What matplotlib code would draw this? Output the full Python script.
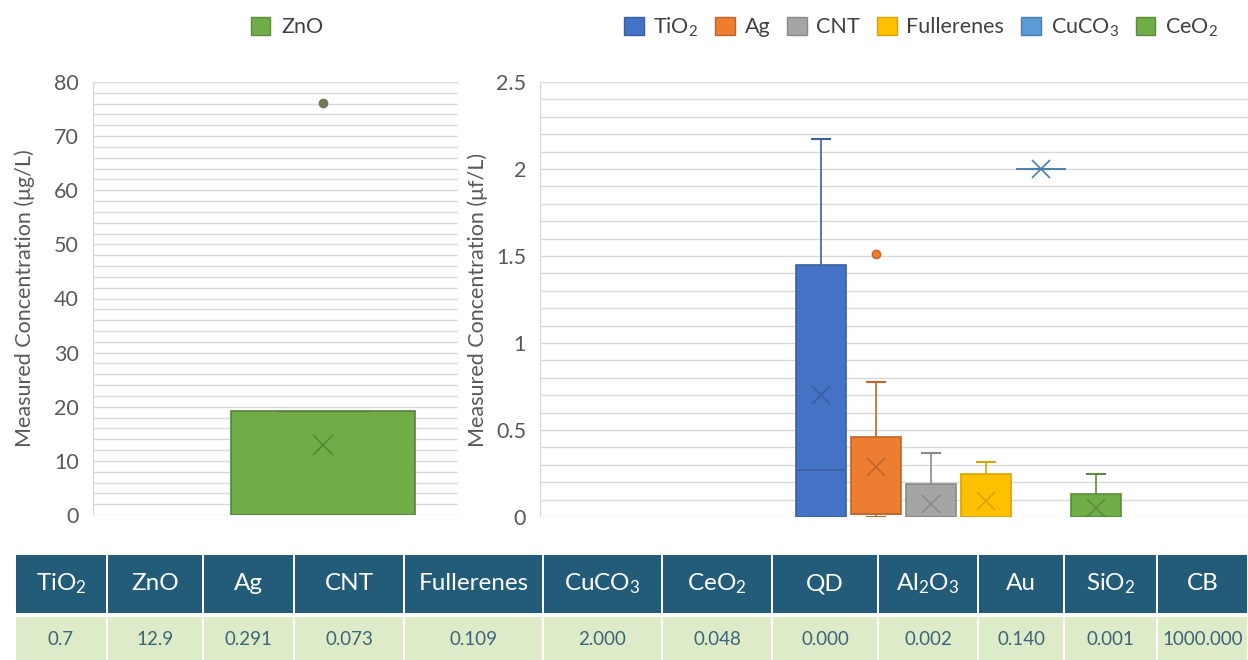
import numpy as np
import matplotlib
matplotlib.use("Agg")
import matplotlib.pyplot as plt
from matplotlib.patches import Patch, Rectangle

plt.rcParams["font.family"] = ["Lato", "DejaVu Sans"]
plt.rcParams["mathtext.default"] = "regular"

# left panel: ZnO
zno_stats = dict(label="ZnO", q1=0.0, med=0.0, q3=19.3, mean=13.0,
                 whislo=0.0, whishi=19.3, fliers=[76.2])

# right panel
right_names = ["TiO$_2$", "Ag", "CNT", "Fullerenes", "CuCO$_3$", "CeO$_2$"]
right_q1 = [0.0, 0.02, 0.0, 0.0, 2.0, 0.0]
right_med = [0.27, 0.02, 0.0, 0.0, 2.0, 0.0]
right_q3 = [1.45, 0.46, 0.19, 0.245, 2.0, 0.13]
right_mean = [0.70, 0.29, 0.075, 0.09, 2.0, 0.05]
right_lo = [0.0, 0.0, 0.0, 0.0, 2.0, 0.0]
right_hi = [2.17, 0.775, 0.365, 0.315, 2.0, 0.245]
right_fliers = [[], [1.51], [], [], [], []]
right_colors = ["#4472C4", "#ED7D31", "#A5A5A5", "#FFC000", "#5B9BD5", "#70AD47"]
right_edges = ["#3A5F9F", "#C0652A", "#8A8A8A", "#D9A400", "#4A7FB0", "#5A8C3A"]

# table
table_labels = ["TiO$_2$", "ZnO", "Ag", "CNT", "Fullerenes", "CuCO$_3$", "CeO$_2$",
                "QD", "Al$_2$O$_3$", "Au", "SiO$_2$", "CB"]
table_values = ["0.7", "12.9", "0.291", "0.073", "0.109", "2.000", "0.048",
                "0.000", "0.002", "0.140", "0.001", "1000.000"]
col_edges = [15, 107, 203, 294, 404, 543, 662, 772, 878, 978, 1064, 1157, 1248]

text_gray = "#595959"
grid_gray = "#D9D9D9"
fs = 15.5

fig = plt.figure(figsize=(12.48, 6.6), dpi=100)


def style_axis(ax):
    for s in ax.spines.values():
        s.set_visible(False)
    ax.tick_params(axis="y", length=0, labelsize=fs, labelcolor=text_gray, pad=10)
    ax.tick_params(axis="x", length=0, labelbottom=False)
    ax.yaxis.grid(True, which="both", color=grid_gray, linewidth=1)
    ax.set_axisbelow(True)
    ax.axvline(ax.get_xlim()[0], color=grid_gray, linewidth=1, zorder=0)


# ---- left chart
ax1 = fig.add_axes([93 / 1248, 145 / 660, 365 / 1248, 433 / 660])
ax1.bxp([zno_stats], positions=[0], widths=1.0, patch_artist=True,
        showmeans=True, meanline=False,
        boxprops=dict(facecolor="#70AD47", edgecolor="#5A7F3E", linewidth=1.2),
        medianprops=dict(color="#5A7F3E", linewidth=1),
        whiskerprops=dict(color="#5A7F3E"), capprops=dict(color="#5A7F3E"),
        meanprops=dict(marker="x", markeredgecolor="#4E8A33", markersize=14,
                       markeredgewidth=1.2),
        flierprops=dict(marker="o", markerfacecolor="#6F7A55", markeredgecolor="#6F7A55",
                        markersize=6))
ax1.set_xlim(-1.25, 0.734)
ax1.set_ylim(0, 80)
ax1.set_yticks(np.arange(0, 81, 10))
ax1.set_yticks(np.arange(0, 81, 2), minor=True)
ax1.tick_params(axis="y", which="minor", length=0)
style_axis(ax1)
ax1.set_ylabel("Measured Concentration (μg/L)", fontsize=fs, color=text_gray, labelpad=14)

# ---- right chart
ax2 = fig.add_axes([540 / 1248, 143 / 660, 708 / 1248, 435 / 660])
pos = np.arange(len(right_names))
stats = []
for i in range(len(right_names)):
    stats.append(dict(label=right_names[i], q1=right_q1[i], med=right_med[i],
                      q3=right_q3[i], mean=right_mean[i], whislo=right_lo[i],
                      whishi=right_hi[i], fliers=right_fliers[i]))
for i, st in enumerate(stats):
    ec = right_edges[i]
    ax2.bxp([st], positions=[pos[i]], widths=0.9, patch_artist=True, showmeans=True,
            boxprops=dict(facecolor=right_colors[i], edgecolor=ec, linewidth=1.2),
            medianprops=dict(color=ec, linewidth=1.2),
            whiskerprops=dict(color=ec, linewidth=1.2),
            capprops=dict(color=ec, linewidth=1.5),
            capwidths=0.32,
            meanprops=dict(marker="x", markeredgecolor=ec, markersize=13,
                           markeredgewidth=1.2),
            flierprops=dict(marker="o", markerfacecolor=right_colors[i],
                            markeredgecolor=ec, markersize=6))
ax2.set_xlim(-5.1, 7.76)
ax2.set_ylim(0, 2.5)
ax2.set_yticks([0, 0.5, 1, 1.5, 2, 2.5])
ax2.set_yticklabels(["0", "0.5", "1", "1.5", "2", "2.5"])
ax2.set_yticks(np.arange(0, 2.51, 0.1), minor=True)
ax2.tick_params(axis="y", which="minor", length=0)
style_axis(ax2)
ax2.set_ylabel("Measured Concentration (μf/L)", fontsize=fs, color=text_gray, labelpad=6)

# ---- legends
fig.legend(handles=[Patch(facecolor="#70AD47", edgecolor="#5A8C3A", label="ZnO")],
           loc="center", bbox_to_anchor=(287 / 1248, 1 - 27 / 660), frameon=False,
           fontsize=fs, handlelength=0.9, handleheight=0.9, handletextpad=0.5,
           labelcolor="#404040")
fig.legend(handles=[Patch(facecolor=c, edgecolor=e, label=n)
                    for c, e, n in zip(right_colors, right_edges, right_names)],
           loc="center", bbox_to_anchor=(921 / 1248, 1 - 27 / 660), frameon=False,
           ncol=6, fontsize=fs, handlelength=0.9, handleheight=0.9,
           columnspacing=0.8, handletextpad=0.45, labelcolor="#404040")

# ---- table
tax = fig.add_axes([0, 0, 1, 1])
tax.set_xlim(0, 1248)
tax.set_ylim(660, 0)
tax.axis("off")
head_top, head_bot, row_top, row_bot = 555, 613, 617, 662
for i in range(len(table_labels)):
    x0 = col_edges[i] + 1
    x1 = col_edges[i + 1] - 1
    tax.add_patch(Rectangle((x0, head_top), x1 - x0, head_bot - head_top,
                            facecolor="#235C78", edgecolor="none"))
    tax.add_patch(Rectangle((x0, row_top), x1 - x0, row_bot - row_top,
                            facecolor="#DDEBC9", edgecolor="none"))
    xc = (x0 + x1) / 2
    tax.text(xc, (head_top + head_bot) / 2, table_labels[i], ha="center", va="center",
             color="white", fontsize=17.5)
    tax.text(xc, (row_top + 660) / 2 + 1, table_values[i], ha="center", va="center",
             color="#3D6478", fontsize=13.5)

fig.savefig("out.png", dpi=100)
